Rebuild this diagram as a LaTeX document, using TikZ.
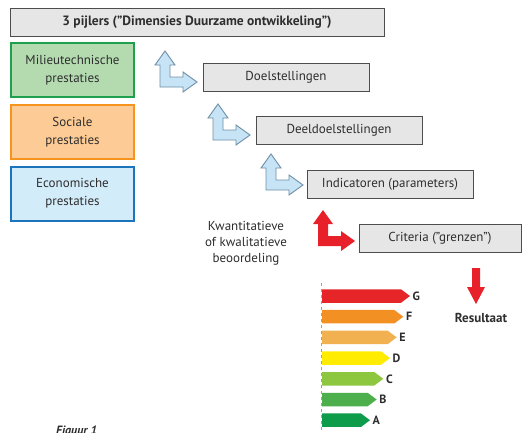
\documentclass[tikz,border=0pt]{standalone}
\usepackage{fontspec}
\setmainfont{PT Sans}
\definecolor{boxgray}{HTML}{E6E6E7}
\definecolor{boxline}{HTML}{4D4D4D}
\definecolor{gfill}{HTML}{B4DBB0}
\definecolor{gline}{HTML}{1FA04F}
\definecolor{ofill}{HTML}{FDCB95}
\definecolor{oline}{HTML}{F7941D}
\definecolor{bfill}{HTML}{D3ECFA}
\definecolor{bline}{HTML}{1C75BC}
\definecolor{afill}{HTML}{C6E4F6}
\definecolor{aline}{HTML}{6F8FA6}
\definecolor{ared}{HTML}{E8202A}
\definecolor{txt}{HTML}{2E2E2E}
\definecolor{cG}{HTML}{E52528}
\definecolor{cF}{HTML}{F39024}
\definecolor{cE}{HTML}{F2B150}
\definecolor{cD}{HTML}{FFEC00}
\definecolor{cC}{HTML}{8DC63F}
\definecolor{cB}{HTML}{4CAF4B}
\definecolor{cA}{HTML}{0E9C4B}
\tikzset{
  graybox/.style={draw=boxline, line width=0.9pt, fill=boxgray, minimum height=28pt, inner sep=0pt, font=\fontsize{13}{15}\selectfont, text=txt},
  pijler/.style={line width=2pt, minimum width=123pt, minimum height=54pt, inner sep=0pt, align=center, font=\fontsize{13}{18}\selectfont, text=txt},
  larrow/.pic={\path[pic actions] (0,0) -- (23,0) -- (23,5) -- (37,-5) -- (23,-15) -- (23,-10) -- (10,-10) -- (10,-22) -- (15,-22) -- (5,-36) -- (-5,-22) -- (0,-22) -- cycle;},
  bluearrow/.style={fill=afill, draw=aline, line width=0.9pt, line join=miter},
  redarrow/.style={fill=ared, draw=none}
}
\begin{document}
\begin{tikzpicture}[x=1pt,y=-1pt]
\useasboundingbox (0,0) rectangle (522,432);
\fill[white] (0,0) rectangle (522,432);

\node[graybox, minimum width=374pt, font=\bfseries\fontsize{13.5}{15}\selectfont] (title) at (197,22) {3 pijlers (”Dimensies Duurzame ontwikkeling”)};

\node[pijler, draw=gline, fill=gfill] (milieu) at (72.5,70) {Milieutechnische\\prestaties};
\node[pijler, draw=oline, fill=ofill] (sociaal) at (72.5,132) {Sociale\\prestaties};
\node[pijler, draw=bline, fill=bfill] (econ) at (72.5,193.5) {Economische\\prestaties};

\node[graybox, minimum width=166pt] (doel) at (286,77) {Doelstellingen};
\node[graybox, minimum width=166pt] (deel) at (339,130) {Deeldoelstellingen};
\node[graybox, minimum width=166pt] (ind) at (390,184) {Indicatoren (parameters)};
\node[graybox, minimum width=162pt] (crit) at (440,238) {Criteria (”grenzen”)};

\pic[bluearrow] at (160,87) {larrow};
\pic[bluearrow] at (213,140) {larrow};
\pic[bluearrow] at (266,190) {larrow};
\pic[redarrow] at (318,246) {larrow};

\node[align=center, font=\fontsize{13}{16}\selectfont, text=txt] (beoord) at (246,243) {Kwantitatieve\\of kwalitatieve\\beoordeling};

\fill[ared] (472,268) -- (480,268) -- (480,287) -- (485,287) -- (476,304) -- (467,287) -- (472,287) -- cycle;
\node[font=\bfseries\fontsize{13}{15}\selectfont, text=txt] (result) at (481,318) {Resultaat};

\draw[dashed, color=aline!80, line width=0.8pt] (321,283) -- (321,432);
\foreach \l/\c [count=\i from 0] in {G/cG,F/cF,E/cE,D/cD,C/cC,B/cB,A/cA}{
  \pgfmathsetmacro\yc{296+20.7*\i}
  \pgfmathsetmacro\tx{410-6.67*\i}
  \fill[\c] (322,\yc-6.75) -- (\tx-9,\yc-6.75) -- (\tx,\yc) -- (\tx-9,\yc+6.75) -- (322,\yc+6.75) -- cycle;
  \node[font=\bfseries\fontsize{12}{13}\selectfont, text=txt, anchor=west, inner sep=0pt] (lab\l) at (\tx+2.5,\yc) {\l};
}

\node[font=\bfseries\itshape\fontsize{12}{14}\selectfont, text=txt, anchor=north west, inner sep=0pt] (fig) at (56,426) {Figuur 1};
\end{tikzpicture}
\end{document}
